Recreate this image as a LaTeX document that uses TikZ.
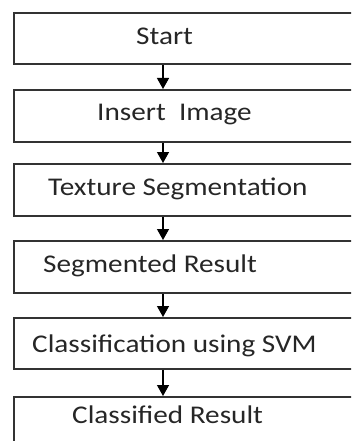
\documentclass[tikz,border=0pt]{standalone}
\usepackage{fontspec}
\setmainfont{Carlito}
\usetikzlibrary{arrows.meta}
\newcommand\widetxt[1]{\scalebox{1.145}[1]{#1}}
\begin{document}
\begin{tikzpicture}[x=1pt,y=-1pt,
  box/.style={draw=black!80,line width=1.8pt,rectangle,minimum width=500pt,inner sep=0pt,anchor=north west},
  lbl/.style={anchor=base west,inner sep=0pt,text=black!85,font=\fontsize{25.5}{30}\selectfont},
  arr/.style={line width=1.3pt,-{Triangle[width=12pt,length=11pt]}}]
\useasboundingbox (0,0) rectangle (351,441);
\clip (0,0) rectangle (351,441);
\node[box,minimum height=51pt] (b1) at (13,12) {};
\node[box,minimum height=52pt] (b2) at (13,89) {};
\node[box,minimum height=52pt] (b3) at (13,163) {};
\node[box,minimum height=52pt] (b4) at (13,240) {};
\node[box,minimum height=51pt] (b5) at (13,317) {};
\node[box,minimum height=80pt] (b6) at (13,396) {};
\coordinate (ax) at (163,0);
\node[lbl] (t1) at (136,45) {\widetxt{Start}};
\node[lbl] (t2) at (97,121) {\widetxt{Insert\ \ Image}};
\node[lbl] (t3) at (48,195) {\widetxt{Texture Segmentation}};
\node[lbl] (t4) at (43,272) {\widetxt{Segmented Result}};
\node[lbl] (t5) at (32,352) {\widetxt{Classification using SVM}};
\node[lbl] (t6) at (72,423) {\widetxt{Classified Result}};
\draw[arr] (b1.south -| ax) -- (b2.north -| ax);
\draw[arr] (b2.south -| ax) -- (b3.north -| ax);
\draw[arr] (b3.south -| ax) -- (b4.north -| ax);
\draw[arr] (b4.south -| ax) -- (b5.north -| ax);
\draw[arr] (b5.south -| ax) -- (b6.north -| ax);
\end{tikzpicture}
\end{document}
